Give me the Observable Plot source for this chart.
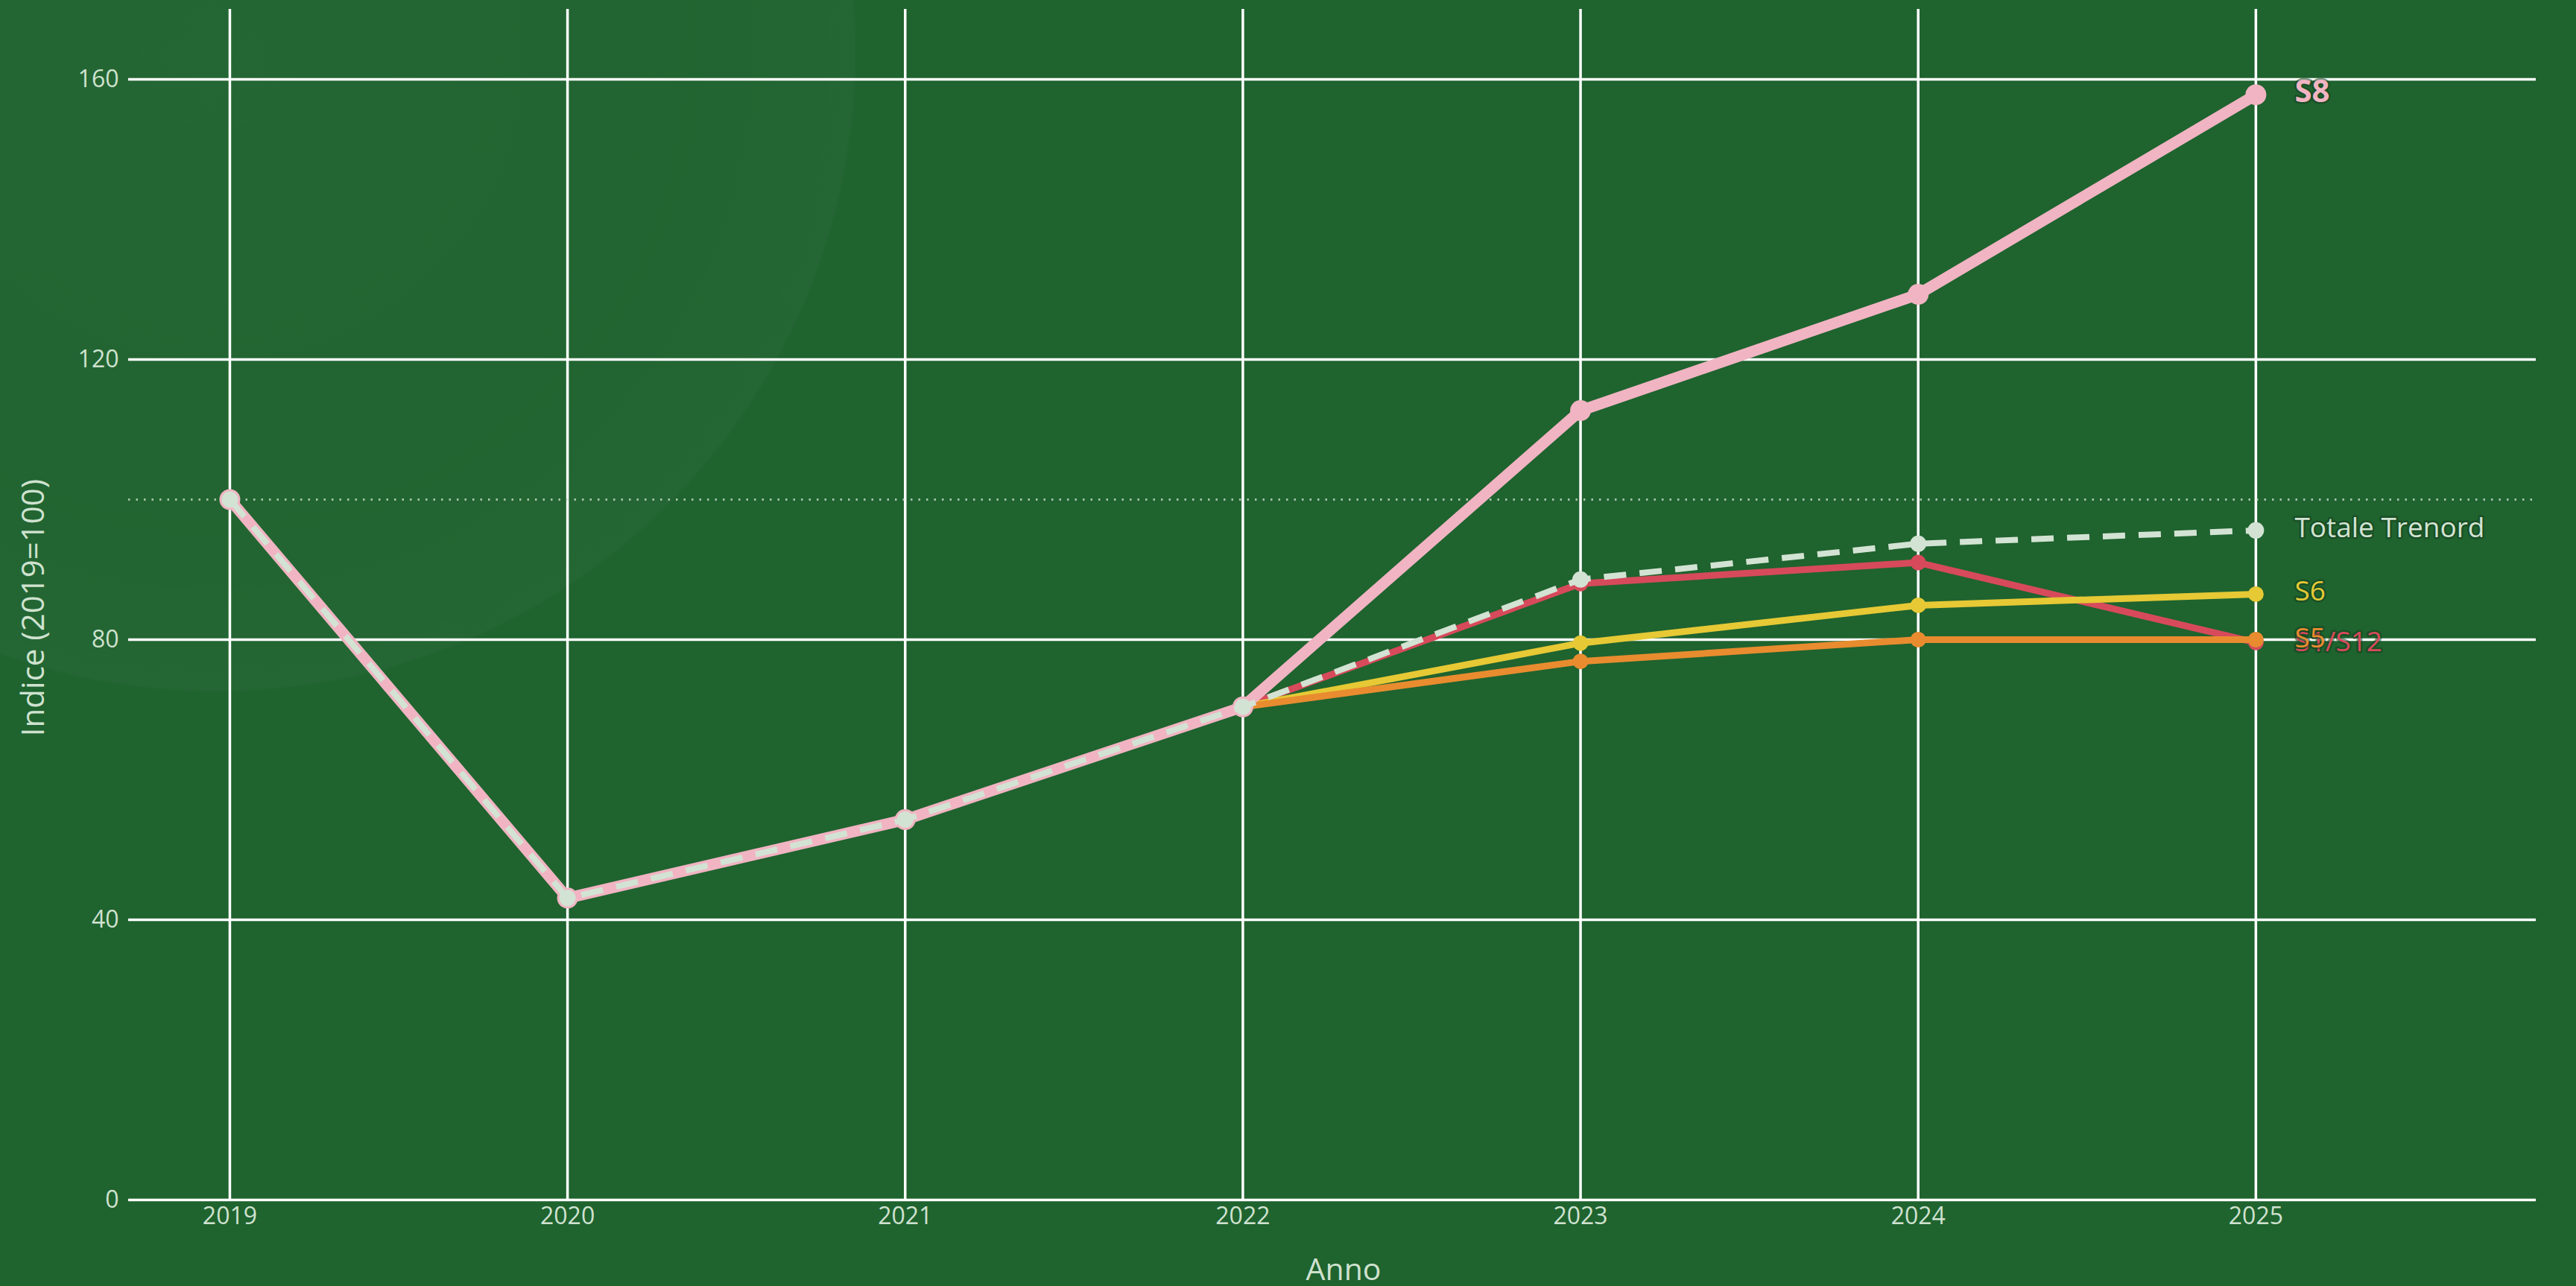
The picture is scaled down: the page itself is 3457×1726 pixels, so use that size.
<!DOCTYPE html>
<html>
<head>
<meta charset="utf-8">
<script src="https://cdn.jsdelivr.net/npm/d3@7"></script>
<script src="https://cdn.jsdelivr.net/npm/@observablehq/plot@0.6"></script>
<style>
  html, body { margin: 0; padding: 0; }
  body {
    width: 3457px; height: 1726px; overflow: hidden;
    background:
      radial-gradient(circle 860px at 290px 70px, rgba(255,255,255,0.024) 0%, rgba(255,255,255,0.012) 75%, rgba(255,255,255,0.022) 99.5%, rgba(255,255,255,0) 100%),
      #1f632f;
    font-family: "Open Sans", sans-serif;
  }
  #chart { position: absolute; left: 0; top: 0; }
</style>
</head>
<body>
<div id="chart"></div>
<script>
// ---- data ----
const years = [2019, 2020, 2021, 2022, 2023, 2024, 2025];
const yTicks = [0, 40, 80, 120, 160];
const valS8      = [100, 43.1, 54.3, 70.4, 112.7, 129.3, 157.8];
const valTotale  = [100, 43.1, 54.3, 70.4, 88.6, 93.7, 95.6];
const valS1S12   = [100, 43.1, 54.3, 70.4, 88.0, 91.0, 79.6];
const valS6      = [100, 43.1, 54.3, 70.4, 79.5, 84.9, 86.5];
const valS5      = [100, 43.1, 54.3, 70.4, 76.9, 80.0, 80.0];
const baseline = 100;

const seriesNames = ["S1/S12", "S6", "S5", "S8", "Totale Trenord"];
const seriesValues = [valS1S12, valS6, valS5, valS8, valTotale];
const seriesColors = ["#d74a5b", "#e6c935", "#e88c2f", "#f1b4c2", "#d3e3d3"];

// ---- build tables ----
const table = seriesNames.map((name, i) =>
  years.map((yr, j) => ({ series: name, year: yr, value: seriesValues[i][j] }))
);
const lastPts = seriesNames.map((name, i) => ({ series: name, year: years[years.length - 1], value: seriesValues[i][years.length - 1] }));

const tickColor = "#cfe2cf";

const marks = [
  Plot.ruleX(years, { stroke: "#ffffff", strokeWidth: 3.5 }),
  Plot.ruleY(yTicks, { stroke: "#ffffff", strokeWidth: 3.5 }),
  Plot.ruleY([baseline], { stroke: tickColor, strokeWidth: 3, strokeDasharray: "2.5,8", strokeOpacity: 0.75 }),
  Plot.axisX(years, { tickSize: 0, tickPadding: 10, tickFormat: d => String(d), label: null, fontSize: 32 }),
  Plot.axisY(yTicks, { tickSize: 0, tickPadding: 13, label: null, fontSize: 32 }),
  Plot.text(["Anno"], { frameAnchor: "bottom", dy: 94, dx: 15, lineAnchor: "middle", textAnchor: "middle", fontSize: 41, fill: tickColor }),
  Plot.text(["Indice (2019=100)"], { frameAnchor: "left", dx: -127, dy: 4, rotate: -90, lineAnchor: "middle", textAnchor: "middle", fontSize: 42, fill: tickColor })
];

// lines (order: red, yellow, orange, pink, dashed total)
const styles = {
  "S1/S12": { w: 9, r: 10.5 },
  "S6": { w: 9, r: 10.5 },
  "S5": { w: 9, r: 10.5 },
  "S8": { w: 15, r: 14 },
  "Totale Trenord": { w: 8, r: 11, dash: "30,18" }
};
seriesNames.forEach((name, i) => {
  const st = styles[name];
  marks.push(Plot.line(table[i], {
    x: "year", y: "value", stroke: seriesColors[i], strokeWidth: st.w,
    strokeDasharray: st.dash, strokeLinejoin: "round", strokeLinecap: "butt"
  }));
  marks.push(Plot.dot(table[i], { x: "year", y: "value", r: st.r, fill: seriesColors[i], stroke: "none" }));
});

// end labels
const labelStyle = {
  "S1/S12": { fs: 37, w: "normal", dy: 0 },
  "S6": { fs: 37, w: "normal", dy: -3 },
  "S5": { fs: 37, w: "normal", dy: -1 },
  "S8": { fs: 42, w: "bold", dy: -4 },
  "Totale Trenord": { fs: 37, w: "normal", dy: -3 }
};
seriesNames.forEach((name, i) => {
  const ls = labelStyle[name];
  marks.push(Plot.text([lastPts[i]], {
    x: "year", y: "value", text: d => d.series, dx: 52, dy: ls.dy,
    textAnchor: "start", lineAnchor: "middle", fontSize: ls.fs, fontWeight: ls.w,
    fill: seriesColors[i], stroke: "#143e1d", strokeWidth: 5, strokeOpacity: 0.55, strokeLinejoin: "round"
  }));
});

const chart = Plot.plot({
  width: 3457,
  height: 1726,
  marginLeft: 172,
  marginRight: 54,
  marginTop: 12,
  marginBottom: 116,
  x: { domain: [2018.7, 2025.83] },
  y: { domain: [0, 170] },
  style: { background: "transparent", color: tickColor, fontFamily: "'Open Sans', sans-serif", fontSize: "32px", overflow: "visible" },
  marks
});
document.getElementById("chart").append(chart);
</script>
</body>
</html>
